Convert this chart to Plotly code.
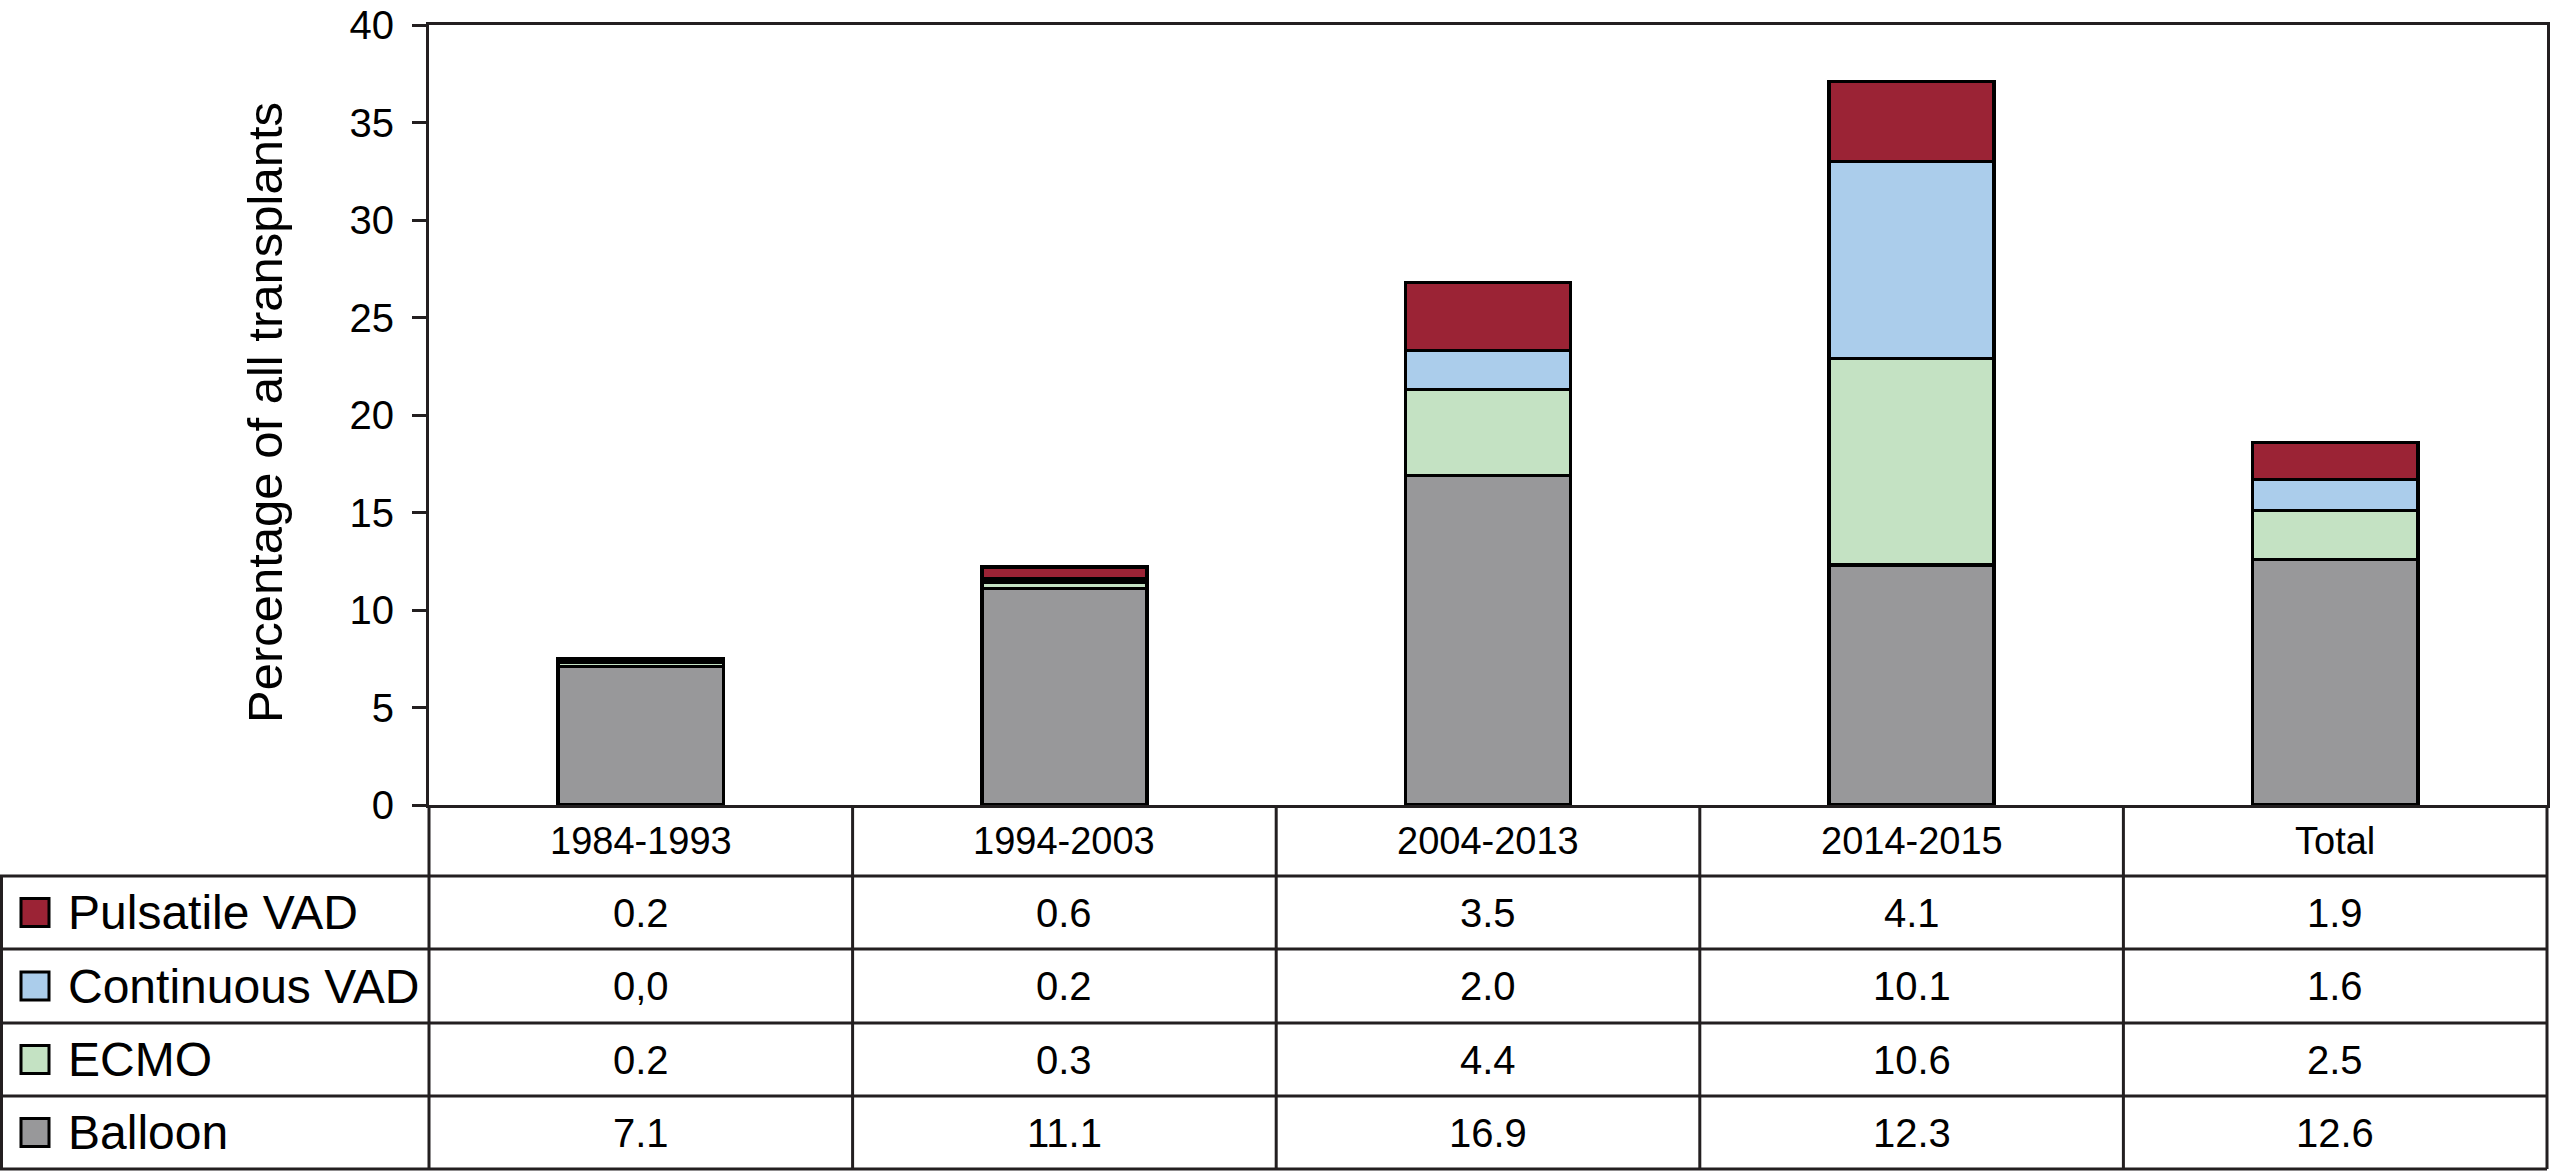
import plotly.graph_objects as go

# ---- data ----
periods = ["1984-1993", "1994-2003", "2004-2013", "2014-2015", "Total"]
balloon = [7.1, 11.1, 16.9, 12.3, 12.6]
ecmo = [0.2, 0.3, 4.4, 10.6, 2.5]
continuous_vad = [0.0, 0.2, 2.0, 10.1, 1.6]
pulsatile_vad = [0.2, 0.6, 3.5, 4.1, 1.9]

balloon_labels = ["7.1", "11.1", "16.9", "12.3", "12.6"]
ecmo_labels = ["0.2", "0.3", "4.4", "10.6", "2.5"]
continuous_labels = ["0,0", "0.2", "2.0", "10.1", "1.6"]
pulsatile_labels = ["0.2", "0.6", "3.5", "4.1", "1.9"]

series_names = ["Balloon", "ECMO", "Continuous VAD", "Pulsatile VAD"]
y_ticks = [0, 5, 10, 15, 20, 25, 30, 35, 40]

# ---- styling ----
W, H = 2550, 1172
FONT = "Liberation Sans, Arial, sans-serif"
LINE = "#231f20"
colors = {
    "Balloon": "#98989a",
    "ECMO": "#c4e2c3",
    "Continuous VAD": "#abcdeb",
    "Pulsatile VAD": "#9b2335",
}

X0, X1 = 429, 2547      # plot area left/right (px)
Y_TOP, Y_ZERO = 25, 805  # plot area top / zero line (px)
row_lines = [876, 949, 1023, 1096, 1169]


def px(x):
    return x / W


def py(y):
    return 1 - y / H


values = {
    "Balloon": balloon,
    "ECMO": ecmo,
    "Continuous VAD": continuous_vad,
    "Pulsatile VAD": pulsatile_vad,
}
labels = {
    "Balloon": balloon_labels,
    "ECMO": ecmo_labels,
    "Continuous VAD": continuous_labels,
    "Pulsatile VAD": pulsatile_labels,
}

fig = go.Figure()
for name in series_names:
    fig.add_trace(go.Bar(
        x=periods, y=values[name], name=name, width=0.39,
        marker=dict(color=colors[name], line=dict(color="#000000", width=3.5)),
        showlegend=False,
    ))

shapes = []
annotations = []
lw = 3

# horizontal table lines
for yl in row_lines:
    shapes.append(dict(type="line", xref="paper", yref="paper",
                       x0=px(0), x1=px(X1), y0=py(yl), y1=py(yl),
                       line=dict(color=LINE, width=lw)))
# left border of legend column
shapes.append(dict(type="line", xref="paper", yref="paper",
                   x0=px(1.5), x1=px(1.5), y0=py(row_lines[0]), y1=py(row_lines[-1]),
                   line=dict(color=LINE, width=lw)))
# plot-area left and right borders continued through table
for xl in (X0, X1):
    shapes.append(dict(type="line", xref="paper", yref="paper",
                       x0=px(xl), x1=px(xl), y0=py(Y_ZERO), y1=py(row_lines[-1]),
                       line=dict(color=LINE, width=lw)))
# inner column dividers (category boundaries)
for i in range(len(periods) - 1):
    shapes.append(dict(type="line", xref="x", yref="paper",
                       x0=i + 0.5, x1=i + 0.5, y0=py(Y_ZERO), y1=py(row_lines[-1]),
                       line=dict(color=LINE, width=lw)))

# header row
for p in periods:
    annotations.append(dict(x=p, xref="x", y=py((Y_ZERO + row_lines[0]) / 2), yref="paper",
                            text=p, showarrow=False, xanchor="center", yanchor="middle",
                            font=dict(size=38, color="#000000", family=FONT)))

# body rows (top to bottom)
table_order = ["Pulsatile VAD", "Continuous VAD", "ECMO", "Balloon"]
for r, name in enumerate(table_order):
    ytop, ybot = row_lines[r], row_lines[r + 1]
    yc = (ytop + ybot) / 2
    shapes.append(dict(type="rect", xref="paper", yref="paper",
                       x0=px(21), x1=px(49), y0=py(yc + 14), y1=py(yc - 14),
                       fillcolor=colors[name], line=dict(color="#000000", width=3)))
    annotations.append(dict(x=px(66), xref="paper", y=py(yc), yref="paper",
                            text=name, showarrow=False, xanchor="left", yanchor="middle",
                            font=dict(size=48, color="#000000", family=FONT)))
    for p, t in zip(periods, labels[name]):
        annotations.append(dict(x=p, xref="x", y=py(yc), yref="paper",
                                text=t, showarrow=False, xanchor="center", yanchor="middle",
                                font=dict(size=40, color="#000000", family=FONT)))

# y-axis title
annotations.append(dict(x=px(265), xref="paper", y=py(413), yref="paper",
                        text="Percentage of all transplants", textangle=-90,
                        showarrow=False, xanchor="center", yanchor="middle",
                        font=dict(size=49, color="#000000", family=FONT)))

fig.update_layout(
    width=W, height=H,
    barmode="stack",
    paper_bgcolor="white", plot_bgcolor="white",
    margin=dict(l=0, r=0, t=0, b=0, autoexpand=False),
    font=dict(family=FONT, color="#000000"),
    shapes=shapes,
    annotations=annotations,
    xaxis=dict(
        type="category", categoryorder="array", categoryarray=periods,
        range=[-0.5, len(periods) - 0.5],
        domain=[px(X0), px(X1)],
        showticklabels=False, ticks="",
        showline=True, linecolor=LINE, linewidth=lw, mirror=True,
        showgrid=False, zeroline=False, automargin=False,
    ),
    yaxis=dict(
        range=[0, 40], tickvals=y_ticks,
        domain=[py(Y_ZERO), py(Y_TOP)],
        ticks="outside", ticklen=14, tickwidth=lw, tickcolor=LINE,
        ticklabelstandoff=10,
        tickfont=dict(size=40, color="#000000", family=FONT),
        showline=True, linecolor=LINE, linewidth=lw, mirror=True,
        showgrid=False, zeroline=False, automargin=False,
    ),
)

fig.write_html("out.html", config={"displayModeBar": False},
               post_script="document.body.style.margin='0';document.body.style.overflow='hidden';")
